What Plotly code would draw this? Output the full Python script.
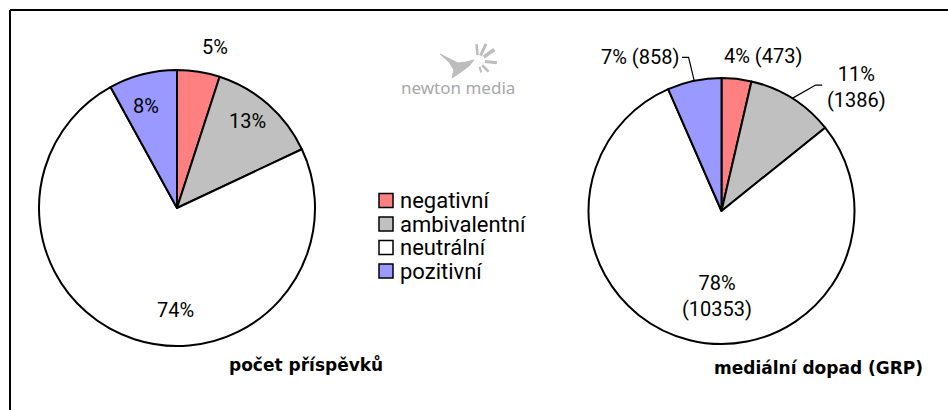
import math
import plotly.graph_objects as go

categories = ["negativní", "ambivalentní", "neutrální", "pozitivní"]
colors = ["#FF8080", "#C0C0C0", "#FFFFFF", "#9999FF"]

# left pie: share of contributions (%)
count_values = [5, 13, 74, 8]
count_labels = ["5%", "13%", "74%", "8%"]

# right pie: media impact (GRP)
grp_values = [473, 1386, 10353, 858]
grp_pct = ["4%", "11%", "78%", "7%"]
grp_labels = ["4% (473)", "11%<br>(1386)", "78%<br>(10353)", "7% (858)"]

W, H = 948, 410
FONT = "Roboto"
BOLD = "DejaVu Sans"

# pie geometry (pixels): centre x, centre y, radius
LEFT = (177, 208, 138)
RIGHT = (721.5, 211, 133)

# label placement style: radius factor and angular shift (deg) from the slice mid-angle
left_lab_f = [1.20, 0.81, 0.74, 0.77]
left_lab_shift = [4.3, -2.6, -17.0, -2.7]
right_lab_f = [1.207, 1.38, 0.64, 1.31]
right_lab_shift = [8.5, 15.2, -10.6, -16.0]


def px(x, y):
    return x / W, 1 - y / H


def dom(geom):
    cx, cy, r = geom
    return dict(x=[(cx - r) / W, (cx + r) / W], y=[(H - cy - r) / H, (H - cy + r) / H])


def mid_angles(values):
    tot = float(sum(values))
    out, cum = [], 0.0
    for v in values:
        out.append(360.0 * (cum + v / 2.0) / tot)
        cum += v
    return out


def polar(geom, f, ang):
    cx, cy, r = geom
    a = math.radians(ang)
    return cx + f * r * math.sin(a), cy - f * r * math.cos(a)


def path_of(pts, close=False):
    s = "M " + " L ".join(f"{px(a, b)[0]:.5f},{px(a, b)[1]:.5f}" for a, b in pts)
    return s + (" Z" if close else "")


fig = go.Figure()
for vals, geom in ((count_values, LEFT), (grp_values, RIGHT)):
    fig.add_trace(go.Pie(
        labels=categories, values=vals, textinfo="none",
        marker=dict(colors=colors, line=dict(color="black", width=2)),
        sort=False, direction="clockwise", rotation=0,
        domain=dom(geom), showlegend=False, hoverinfo="label+value",
    ))

annotations = []
shapes = []

# slice labels
for vals, labs, geom, fs, shifts in ((count_values, count_labels, LEFT, left_lab_f, left_lab_shift),
                                     (grp_values, grp_labels, RIGHT, right_lab_f, right_lab_shift)):
    for lab, m, f, s in zip(labs, mid_angles(vals), fs, shifts):
        x, y = polar(geom, f, m + s)
        xp, yp = px(x, y)
        annotations.append(dict(text=lab, x=xp, y=yp, xref="paper", yref="paper",
                                showarrow=False, xanchor="center", yanchor="middle",
                                font=dict(family=FONT, size=20, color="black")))

# leader lines on the right pie (ambivalentní, pozitivní)
rm = mid_angles(grp_values)
leader_steps = {1: [(23.4, -13.3), (6.6, 0)], 3: [(-5.7, -23.4), (-6.6, 0)]}
for i, steps in leader_steps.items():
    x, y = polar(RIGHT, 1.0, rm[i])
    pts = [(x, y)]
    for dx, dy in steps:
        x, y = x + dx, y + dy
        pts.append((x, y))
    shapes.append(dict(type="path", xref="paper", yref="paper", path=path_of(pts),
                       line=dict(color="black", width=1.2)))

# manual legend
LEG_X, LEG_Y, LEG_DY, BOX = 379, 200.5, 23.5, 14
for i, (cat, col) in enumerate(zip(categories, colors)):
    cy = LEG_Y + i * LEG_DY
    x0, y0 = px(LEG_X, cy - BOX / 2)
    x1, y1 = px(LEG_X + BOX, cy + BOX / 2)
    shapes.append(dict(type="rect", xref="paper", yref="paper", x0=x0, x1=x1, y0=y1, y1=y0,
                       fillcolor=col, line=dict(color="black", width=1.5)))
    tx, ty = px(LEG_X + BOX + 5, cy)
    annotations.append(dict(text=cat, x=tx, y=ty, xref="paper", yref="paper", showarrow=False,
                            xanchor="left", yanchor="middle",
                            font=dict(family=FONT, size=22, color="black")))

# frame (top and left edges visible)
shapes += [
    dict(type="line", xref="paper", yref="paper", x0=10 / W, x1=1, y0=1 - 10 / H, y1=1 - 10 / H,
         line=dict(color="black", width=2)),
    dict(type="line", xref="paper", yref="paper", x0=10 / W, x1=10 / W, y0=0, y1=1 - 10 / H,
         line=dict(color="black", width=2)),
]

# logo (bird mark + splash + wordmark)
LOGO = "#BDBDBD"
bird = [(440, 54), (452, 60), (458, 63), (466, 62), (474, 60), (469, 66),
        (461, 72), (452, 78), (454, 70), (449, 62)]
shapes.append(dict(type="path", xref="paper", yref="paper", path=path_of(bird, True),
                   fillcolor=LOGO, line=dict(color=LOGO, width=1)))
SPLASH = (478, 61)
for ang, r0, r1, w in [(-5, 6, 17, 2.5), (25, 6, 19, 3), (55, 7, 20, 3.5), (95, 7, 19, 3),
                       (135, 6, 15, 2.5), (165, 6, 12, 2)]:
    a = math.radians(ang)
    xa, ya = SPLASH[0] + r0 * math.sin(a), SPLASH[1] - r0 * math.cos(a)
    xb, yb = SPLASH[0] + r1 * math.sin(a), SPLASH[1] - r1 * math.cos(a)
    x0, y0 = px(xa, ya)
    x1, y1 = px(xb, yb)
    shapes.append(dict(type="line", xref="paper", yref="paper", x0=x0, y0=y0, x1=x1, y1=y1,
                       line=dict(color=LOGO, width=w)))

annotations += [
    dict(text="<b>počet příspěvků</b>", x=306 / W, y=1 - 364 / H, xref="paper", yref="paper",
         xanchor="center", yanchor="middle",
         showarrow=False, font=dict(family=BOLD, size=17, color="black")),
    dict(text="<b>mediální dopad (GRP)</b>", x=818 / W, y=1 - 368 / H, xref="paper", yref="paper",
         xanchor="center", yanchor="middle",
         showarrow=False, font=dict(family=BOLD, size=17, color="black")),
    dict(text="newton media", x=458 / W, y=1 - 88 / H, xref="paper", yref="paper",
         xanchor="center", yanchor="middle",
         showarrow=False, font=dict(family="Noto Sans", size=17, color="#A8A8A8")),
]

fig.update_layout(
    width=W, height=H, margin=dict(l=0, r=0, t=0, b=0),
    paper_bgcolor="white", plot_bgcolor="white",
    font=dict(family=FONT, color="black"),
    showlegend=False, shapes=shapes, annotations=annotations,
)

fig.write_html("out.html", config={"displayModeBar": False},
               post_script="document.body.style.margin='0px';")
